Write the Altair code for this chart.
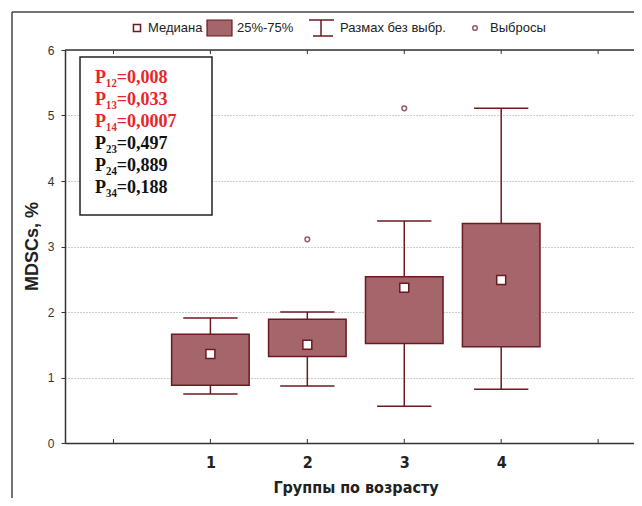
import altair as alt
import pandas as pd

# ---- data ----
groups = [1, 2, 3, 4]
q1 = [0.88, 1.32, 1.52, 1.47]
q3 = [1.66, 1.89, 2.54, 3.35]
medians = [1.36, 1.50, 2.37, 2.49]
whisk_lo = [0.75, 0.87, 0.56, 0.82]
whisk_hi = [1.91, 2.00, 3.39, 5.11]
outlier_group = [2, 3]
outlier_value = [3.11, 5.11]
pvalue_labels = ["P₁₂=0,008", "P₁₃=0,033", "P₁₄=0,0007",
                 "P₂₃=0,497", "P₂₄=0,889", "P₃₄=0,188"]
pvalue_colors = ["#e8262a", "#e8262a", "#e8262a", "#111111", "#111111", "#111111"]
legend_labels = ["Медиана", "25%-75%", "Размах без выбр.", "Выбросы"]
x_ticks = [0, 1, 2, 3, 4, 5]
y_ticks = [0, 1, 2, 3, 4, 5, 6]

W, H = 569, 393
DARK = "#6b1a1f"
FILL = "#a4666a"
AX = "#333333"
NARROW = "DejaVu Sans Condensed, Liberation Sans Narrow, Arial Narrow, Liberation Sans, sans-serif"

df = pd.DataFrame({"group": groups, "q1": q1, "q3": q3, "med": medians,
                   "lo": whisk_lo, "hi": whisk_hi})
out_df = pd.DataFrame({"group": outlier_group, "val": outlier_value})
one = pd.DataFrame({"a": [0]})

xscale = alt.Scale(domain=[-0.5, 5.37], nice=False, zero=False)
yscale = alt.Scale(domain=[0, 6], nice=False, zero=True)

base = alt.Chart(df)

box = base.transform_calculate(
    x1="datum.group - 0.4", x2="datum.group + 0.4"
).mark_rect(fill=FILL, stroke=DARK, strokeWidth=1.5).encode(
    x=alt.X("x1:Q", scale=xscale, axis=alt.Axis(
        values=x_ticks, format="d",
        labelExpr="datum.value >= 1 && datum.value <= 4 ? datum.label : ''",
        ticks=False, grid=False, domainColor=AX, domainWidth=1.5,
        labelFont=NARROW, labelFontSize=16, labelFontWeight="bold",
        labelColor="#222", labelPadding=11, title=None)),
    x2="x2:Q",
    y=alt.Y("q1:Q", scale=yscale, axis=alt.Axis(
        values=y_ticks, format="d", tickSize=4, tickColor=AX, tickWidth=1,
        labelFont="Liberation Sans", labelFontSize=12, labelColor="#333",
        labelPadding=7, grid=True, gridDash=[1, 2], gridColor="#9a9a9a",
        domainColor=AX, domainWidth=1.5, title=None)),
    y2="q3:Q",
)

wl = base.mark_rule(color=DARK, strokeWidth=1.5).encode(
    x=alt.X("group:Q", scale=xscale), y=alt.Y("lo:Q", scale=yscale), y2="q1:Q")
wh = base.mark_rule(color=DARK, strokeWidth=1.5).encode(
    x=alt.X("group:Q", scale=xscale), y=alt.Y("q3:Q", scale=yscale), y2="hi:Q")
caps_lo = base.transform_calculate(
    c1="datum.group - 0.28", c2="datum.group + 0.28"
).mark_rule(color=DARK, strokeWidth=1.5).encode(
    x=alt.X("c1:Q", scale=xscale), x2="c2:Q", y=alt.Y("lo:Q", scale=yscale))
caps_hi = base.transform_calculate(
    c1="datum.group - 0.28", c2="datum.group + 0.28"
).mark_rule(color=DARK, strokeWidth=1.5).encode(
    x=alt.X("c1:Q", scale=xscale), x2="c2:Q", y=alt.Y("hi:Q", scale=yscale))
med = base.mark_square(size=80, fill="white", stroke=DARK, strokeWidth=1.5,
                       opacity=1).encode(
    x=alt.X("group:Q", scale=xscale), y=alt.Y("med:Q", scale=yscale))
outl = alt.Chart(out_df).mark_point(shape="circle", size=22, stroke=DARK,
                                    strokeWidth=1.5, filled=False).encode(
    x=alt.X("group:Q", scale=xscale), y=alt.Y("val:Q", scale=yscale))

# frame: top line, inward ticks on bottom and top
tick_df = pd.DataFrame({"t": x_ticks})
top_line = alt.Chart(one).mark_rule(color=AX, strokeWidth=1.5).encode(
    x=alt.value(0), x2=alt.value(W), y=alt.value(0))
bt = alt.Chart(tick_df).mark_rule(color=AX, strokeWidth=1).encode(
    x=alt.X("t:Q", scale=xscale), y=alt.value(H), y2=alt.value(H - 4))
tt = alt.Chart(tick_df).mark_rule(color=AX, strokeWidth=1).encode(
    x=alt.X("t:Q", scale=xscale), y=alt.value(0), y2=alt.value(4))

# outer figure frame
frame_left = alt.Chart(one).mark_rule(color="#444", strokeWidth=1.5).encode(
    x=alt.value(-53), y=alt.value(-38), y2=alt.value(H + 70))
frame_top = alt.Chart(one).mark_rule(color="#444", strokeWidth=1.5).encode(
    x=alt.value(-53), x2=alt.value(W + 10), y=alt.value(-38))

# titles
ytitle = alt.Chart(one).mark_text(text="MDSCs, %", angle=270, font="Liberation Sans",
                                  fontSize=18, fontWeight="bold", color="#222",
                                  align="center", baseline="middle").encode(
    x=alt.value(-32), y=alt.value(H / 2))
xtitle = alt.Chart(one).mark_text(text="Группы по возрасту", font=NARROW,
                                  fontSize=16, fontWeight="bold", color="#222",
                                  align="center", baseline="middle").encode(
    x=alt.value(291), y=alt.value(H + 45))

# p-value box
pbox = alt.Chart(one).mark_rect(fill="white", stroke="#222", strokeWidth=1.5).encode(
    x=alt.value(15), x2=alt.value(147), y=alt.value(7), y2=alt.value(165))
p_df = pd.DataFrame({"lab": pvalue_labels, "col": pvalue_colors,
                     "i": list(range(len(pvalue_labels)))})
ptext = alt.Chart(p_df).transform_calculate(py="33 + 22 * datum.i").mark_text(
    font="Liberation Serif", fontSize=18, fontWeight="bold", align="left",
    baseline="alphabetic").encode(
    x=alt.value(30), y=alt.Y("py:Q", scale=None),
    text="lab:N", color=alt.Color("col:N", scale=None))

# custom legend
LY = -22
leg_text_df = pd.DataFrame({"lab": legend_labels, "px": [83, 172, 275, 425]})
leg_text = alt.Chart(leg_text_df).mark_text(
    font="Liberation Sans", fontSize=13, color="#222", align="left",
    baseline="middle").encode(x=alt.X("px:Q", scale=None), y=alt.value(LY), text="lab:N")
leg_med = alt.Chart(one).mark_square(size=50, fill="white", stroke=DARK,
                                     strokeWidth=1.5, opacity=1).encode(
    x=alt.value(72), y=alt.value(LY))
leg_box = alt.Chart(one).mark_rect(fill=FILL, stroke=DARK, strokeWidth=1.2).encode(
    x=alt.value(142), x2=alt.value(167), y=alt.value(LY - 8), y2=alt.value(LY + 8))
leg_w1 = alt.Chart(one).mark_rule(color=DARK, strokeWidth=1.5).encode(
    x=alt.value(244), x2=alt.value(269), y=alt.value(LY - 8))
leg_w2 = alt.Chart(one).mark_rule(color=DARK, strokeWidth=1.5).encode(
    x=alt.value(256), y=alt.value(LY - 8), y2=alt.value(LY + 8))
leg_w3 = alt.Chart(one).mark_rule(color=DARK, strokeWidth=1.5).encode(
    x=alt.value(248), x2=alt.value(268), y=alt.value(LY + 8))
leg_out = alt.Chart(one).mark_point(shape="circle", size=22, stroke=DARK,
                                    strokeWidth=1.5, filled=False).encode(
    x=alt.value(410), y=alt.value(LY))

chart = alt.layer(
    box, wl, wh, caps_lo, caps_hi, med, outl,
    top_line, bt, tt, frame_left, frame_top, ytitle, xtitle,
    pbox, ptext, leg_text, leg_med, leg_box, leg_w1, leg_w2, leg_w3, leg_out,
).properties(
    width=W, height=H,
    padding={"left": 57, "top": 42, "right": 0, "bottom": 55},
    autosize=alt.AutoSizeParams(type="none"),
    background="white",
).configure_view(strokeWidth=0)

chart.save("out.html", embed_options={"renderer": "svg", "actions": False})
